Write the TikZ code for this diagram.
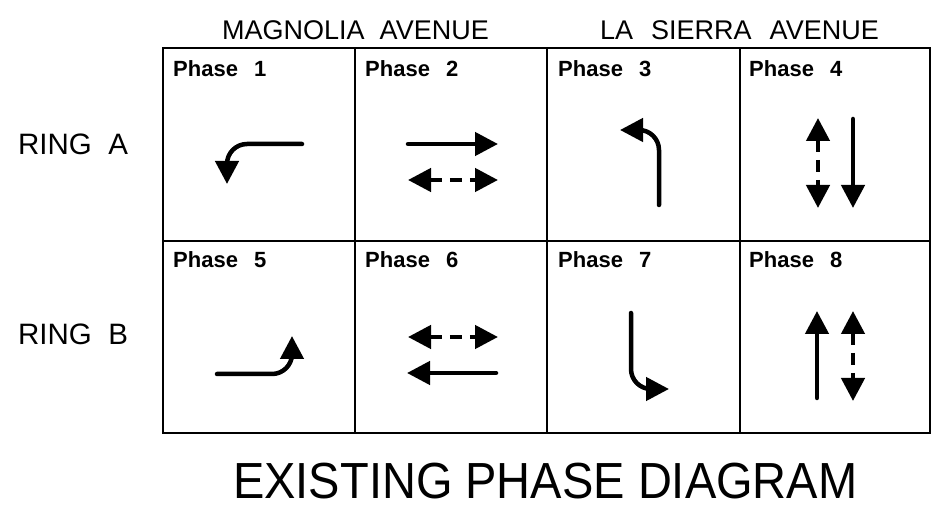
\documentclass[tikz,border=0pt]{standalone}
\usepackage{fontspec}
\setmainfont{Liberation Sans}
\usetikzlibrary{arrows.meta}
\tikzset{
  grid line/.style={line width=1.8pt},
  phaselabel/.style={anchor=base west, inner sep=0pt, font=\fontsize{22}{26}\selectfont\bfseries},
  streetlabel/.style={anchor=base west, inner sep=0pt, font=\fontsize{27}{32}\selectfont},
  ringlabel/.style={anchor=base west, inner sep=0pt, font=\fontsize{29.5}{34}\selectfont},
  move/.style={line width=4.5pt, line cap=round, -{Triangle[length=23pt,width=23pt]}},
  movepaired/.style={line width=4.5pt, dash pattern=on 12pt off 8pt, {Triangle[length=23pt,width=23pt]}-{Triangle[length=23pt,width=23pt]}}
}
\begin{document}
\begin{tikzpicture}[x=1pt,y=-1pt]
\useasboundingbox (0,0) rectangle (932,510);
\pgfmathsetmacro{\colA}{163}
\pgfmathsetmacro{\colB}{355}
\pgfmathsetmacro{\colC}{547}
\pgfmathsetmacro{\colD}{740}
\pgfmathsetmacro{\colE}{930}
\pgfmathsetmacro{\rowA}{48}
\pgfmathsetmacro{\rowB}{241}
\pgfmathsetmacro{\rowC}{433}
\draw[grid line] (\colA,\rowA) rectangle (\colE,\rowC);
\draw[grid line] (\colA,\rowB) -- (\colE,\rowB);
\draw[grid line] (\colB,\rowA) -- (\colB,\rowC);
\draw[grid line] (\colC,\rowA) -- (\colC,\rowC);
\draw[grid line] (\colD,\rowA) -- (\colD,\rowC);
\node[streetlabel] (magnolia) at (222,40) {MAGNOLIA\ \ AVENUE};
\node[streetlabel] (lasierra) at (600,40) {LA\hspace{18pt}SIERRA\hspace{18pt}AVENUE};
\node[ringlabel] (ringa) at (18,155) {RING\ \ A};
\node[ringlabel] (ringb) at (18,345) {RING\ \ B};
\node[phaselabel] (ph1) at (173,77) {Phase\hspace{16pt}1};
\node[phaselabel] (ph2) at (365,77) {Phase\hspace{16pt}2};
\node[phaselabel] (ph3) at (558,77) {Phase\hspace{16pt}3};
\node[phaselabel] (ph4) at (749,77) {Phase\hspace{16pt}4};
\node[phaselabel] (ph5) at (173,268) {Phase\hspace{16pt}5};
\node[phaselabel] (ph6) at (365,268) {Phase\hspace{16pt}6};
\node[phaselabel] (ph7) at (558,268) {Phase\hspace{16pt}7};
\node[phaselabel] (ph8) at (749,268) {Phase\hspace{16pt}8};
\draw[move, rounded corners=20pt] (302,144) -- (227,144) -- (227,184);
\draw[move] (408,144) -- (498,144);
\draw[movepaired] (408,180) -- (498,180);
\draw[move, rounded corners=20pt] (659,205) -- (659,130) -- (620,130);
\draw[movepaired] (818,118) -- (818,208);
\draw[move] (853,119) -- (853,208);
\draw[move, rounded corners=20pt] (217,374) -- (292,374) -- (292,336);
\draw[movepaired] (408,337) -- (498,337);
\draw[move] (496,373) -- (407,373);
\draw[move, rounded corners=20pt] (631,313) -- (631,389) -- (669,389);
\draw[move] (817,398) -- (817,311);
\draw[movepaired] (853,311) -- (853,401);
\node[anchor=base west, inner sep=0pt, font=\fontsize{47}{54}\selectfont, yscale=1.08, transform shape] (title) at (233,498) {EXISTING PHASE DIAGRAM};
\end{tikzpicture}
\end{document}
